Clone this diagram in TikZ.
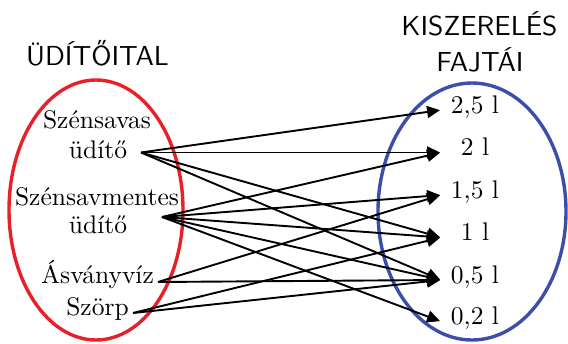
\documentclass[tikz,border=0pt]{standalone}
\usepackage{fontspec}
\setmainfont{lmroman10-regular.otf}
\setsansfont{lmsans10-regular.otf}
\usepackage{xcolor}
\usetikzlibrary{arrows.meta, positioning}
\definecolor{ovalred}{HTML}{E8202A}
\definecolor{ovalblue}{HTML}{3B4FA8}

\begin{document}
\begin{tikzpicture}[->,>={Triangle[length=13pt,width=12pt]},shorten >=1pt,
  x=1pt,y=-1pt,line width=1.9pt,
  drink/.style={anchor=base,font=\fontsize{25.5}{30}\selectfont},
  vol/.style={minimum width=66pt,inner sep=0pt,text height=15pt,text depth=9pt,
    font=\fontsize{25.5}{30}\selectfont},
  heading/.style={anchor=base,font=\sffamily\fontsize{27.5}{30}\selectfont},
  oval/.style={-,line width=3.4pt}]

  \useasboundingbox (0,0) rectangle (568,343);

  % the two sets
  \draw[oval,ovalred] (96,210) ellipse [x radius=87,y radius=130];
  \draw[oval,ovalblue] (472,211.5) ellipse [x radius=94,y radius=128.5];

  \node[heading] (udito) at (97.5,65) {ÜDÍTŐITAL};
  \node[heading] (kisz) at (479.5,35) {KISZERELÉS};
  \node[heading] (fajt) at (480,71.5) {FAJTÁI};

  % drinks
  \node[drink] (szsa) at (97,128) {Szénsavas};
  \node[drink] (szsb) at (98,158) {üdítő};
  \node[drink] (szma) at (97,205) {Szénsavmentes};
  \node[drink] (szmb) at (98,233) {üdítő};
  \node[drink] (asv) at (97.5,283) {Ásványvíz};
  \node[drink] (szorp) at (97.5,315) {Szörp};

  \coordinate (s1) at (141,152.5);
  \coordinate (s2) at (162,217);
  \coordinate (s3) at (158,282);
  \coordinate (s4) at (133,313);

  % sizes
  \node[vol] (v25) at (475,110) {2,5 l};
  \node[vol] (v2) at (475,152.5) {2 l};
  \node[vol] (v15) at (475,195) {1,5 l};
  \node[vol] (v1) at (475,237.5) {1 l};
  \node[vol] (v05) at (475,280) {0,5 l};
  \node[vol] (v02) at (475,321.5) {0,2 l};

  \draw (s1) -- (v25.west);
  \draw (s1) -- (v2.west);
  \draw (s1) -- (v1.west);
  \draw (s1) -- (v05.west);
  \draw (s2) -- (v2.west);
  \draw (s2) -- (v15.west);
  \draw (s2) -- (v1.west);
  \draw (s2) -- (v05.west);
  \draw (s2) -- (v02.west);
  \draw (s3) -- (v15.west);
  \draw (s3) -- (v05.west);
  \draw (s4) -- (v1.west);
  \draw (s4) -- (v05.west);
\end{tikzpicture}
\end{document}
